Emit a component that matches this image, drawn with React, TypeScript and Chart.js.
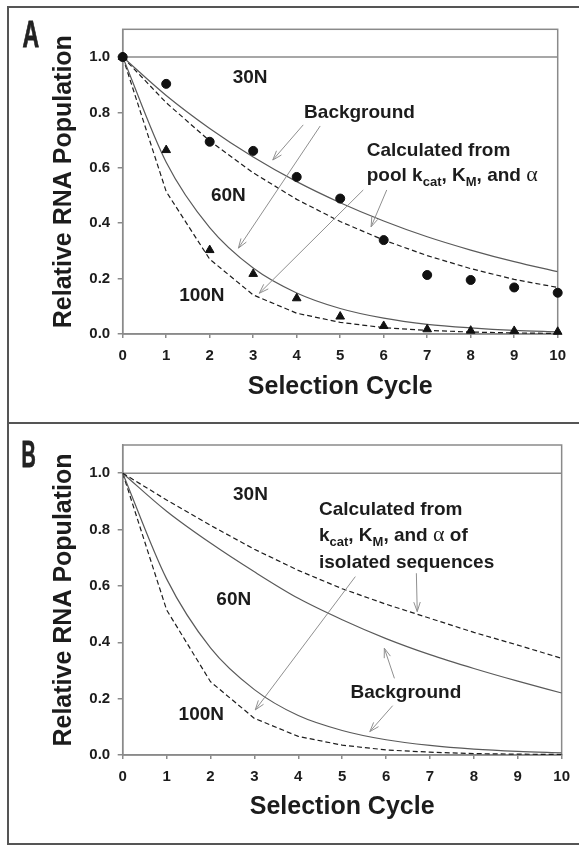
import React, { useEffect, useRef } from "react";
import { Chart, registerables } from "chart.js";

Chart.register(...registerables);

const SANS = '"Liberation Sans", Arial, Helvetica, sans-serif';
const SERIF = '"Liberation Serif", "Times New Roman", serif';

// ---------- data ----------
const cycles = [0, 1, 2, 3, 4, 5, 6, 7, 8, 9, 10];

// Panel A
const a30Observed = [1.0, 0.903, 0.694, 0.661, 0.567, 0.489, 0.339, 0.213, 0.195, 0.168, 0.149];
const a100Observed = [1.0, 0.664, 0.303, 0.217, 0.129, 0.063, 0.029, 0.017, 0.012, 0.011, 0.008];
const a30Background = [1.0, 0.861, 0.742, 0.639, 0.55, 0.474, 0.408, 0.351, 0.303, 0.261, 0.225];
const a30Calculated = [1.0, 0.835, 0.697, 0.582, 0.486, 0.406, 0.339, 0.283, 0.236, 0.197, 0.168];
const a100Background = [1.0, 0.62, 0.384, 0.238, 0.148, 0.092, 0.057, 0.035, 0.022, 0.013, 0.008];
const a100Calculated = [1.0, 0.514, 0.27, 0.141, 0.075, 0.042, 0.023, 0.013, 0.007, 0.004, 0.002];

// Panel B
const bUpperCalculated = [1.0, 0.905, 0.815, 0.73, 0.655, 0.59, 0.535, 0.485, 0.435, 0.39, 0.343];
const bUpperBackground = [1.0, 0.865, 0.752, 0.65, 0.556, 0.48, 0.413, 0.356, 0.307, 0.262, 0.22];
const bLowerBackground = [1.0, 0.625, 0.38, 0.232, 0.14, 0.087, 0.054, 0.034, 0.021, 0.013, 0.008];
const bLowerCalculated = [1.0, 0.515, 0.26, 0.13, 0.066, 0.035, 0.018, 0.01, 0.005, 0.003, 0.002];

const xTitle = "Selection Cycle";
const yTitle = "Relative RNA Population";

type Seg = { t: string; sub?: boolean; greek?: boolean };
type Note = { segs: Seg[]; x: number; y: number; align: "left" | "center" };
type Arrow = [number, number, number, number];

const aNotes: Note[] = [
  { segs: [{ t: "30N" }], x: 2.93, y: 0.929, align: "center" },
  { segs: [{ t: "60N" }], x: 2.43, y: 0.505, align: "center" },
  { segs: [{ t: "100N" }], x: 1.82, y: 0.144, align: "center" },
  { segs: [{ t: "Background" }], x: 4.17, y: 0.805, align: "left" },
  { segs: [{ t: "Calculated from" }], x: 5.61, y: 0.667, align: "left" },
  {
    segs: [
      { t: "pool k" }, { t: "cat", sub: true }, { t: ", K" }, { t: "M", sub: true },
      { t: ", and " }, { t: "α", greek: true },
    ],
    x: 5.61, y: 0.577, align: "left",
  },
];
const aArrows: Arrow[] = [
  [4.15, 0.755, 3.45, 0.628],
  [4.54, 0.751, 2.66, 0.31],
  [5.53, 0.52, 3.14, 0.147],
  [6.07, 0.52, 5.71, 0.387],
];

const bNotes: Note[] = [
  { segs: [{ t: "30N" }], x: 2.91, y: 0.929, align: "center" },
  { segs: [{ t: "60N" }], x: 2.53, y: 0.558, align: "center" },
  { segs: [{ t: "100N" }], x: 1.79, y: 0.148, align: "center" },
  { segs: [{ t: "Calculated from" }], x: 4.47, y: 0.875, align: "left" },
  {
    segs: [
      { t: "k" }, { t: "cat", sub: true }, { t: ", K" }, { t: "M", sub: true },
      { t: ", and " }, { t: "α", greek: true }, { t: " of" },
    ],
    x: 4.47, y: 0.785, align: "left",
  },
  { segs: [{ t: "isolated sequences" }], x: 4.47, y: 0.686, align: "left" },
  { segs: [{ t: "Background" }], x: 6.45, y: 0.225, align: "center" },
];
const bArrows: Arrow[] = [
  [6.69, 0.645, 6.71, 0.509],
  [5.3, 0.633, 3.02, 0.16],
  [6.19, 0.272, 5.96, 0.379],
  [6.15, 0.175, 5.63, 0.083],
];

// ---------- styles ----------
const TEXT = "#1c1c1c";
const AXIS = "#8a8a8a";
const SOLID = "#5a5a5a";
const DASH = "#1e1e1e";
const ARROW = "#8f8f8f";

const pairs = (ys: number[]) => cycles.map((c, i) => ({ x: c, y: ys[i] }));

function segFont(s: Seg) {
  if (s.greek) return `normal 22px ${SERIF}`;
  if (s.sub) return `bold 13px ${SANS}`;
  return `bold 19px ${SANS}`;
}

function drawNote(ctx: CanvasRenderingContext2D, n: Note, px: number, py: number) {
  const widths = n.segs.map((s) => {
    ctx.font = segFont(s);
    return ctx.measureText(s.t).width;
  });
  const total = widths.reduce((a, b) => a + b, 0);
  let cx = n.align === "center" ? px - total / 2 : px;
  const base = py + 6.8;
  ctx.textAlign = "left";
  ctx.textBaseline = "alphabetic";
  n.segs.forEach((s, i) => {
    ctx.font = segFont(s);
    ctx.fillText(s.t, cx, s.sub ? base + 5 : base);
    cx += widths[i];
  });
}

function drawArrow(ctx: CanvasRenderingContext2D, x0: number, y0: number, x1: number, y1: number) {
  const ang = Math.atan2(y1 - y0, x1 - x0);
  const L = 10;
  const a = 0.33;
  ctx.beginPath();
  ctx.moveTo(x0, y0);
  ctx.lineTo(x1, y1);
  ctx.moveTo(x1 - L * Math.cos(ang - a), y1 - L * Math.sin(ang - a));
  ctx.lineTo(x1, y1);
  ctx.lineTo(x1 - L * Math.cos(ang + a), y1 - L * Math.sin(ang + a));
  ctx.stroke();
}

type PanelCfg = {
  letter: string;
  letterX: number;
  letterY: number;
  letterScale: number;
  padTop: number;
  padRight: number;
  xHeight: number;
  yWidth: number;
  xTitlePad: number;
  yTitlePad: number;
  notes: Note[];
  arrows: Arrow[];
  datasets: any[];
};

function makeOverlay(cfg: PanelCfg) {
  return {
    id: "overlay" + cfg.letter,
    beforeDatasetsDraw(chart: any) {
      const { ctx, chartArea: ca, scales } = chart;
      const y = scales.y;
      ctx.save();
      ctx.strokeStyle = AXIS;
      ctx.lineWidth = 1.5;
      ctx.strokeRect(ca.left, ca.top, ca.right - ca.left, ca.bottom - ca.top);
      const y1 = y.getPixelForValue(1);
      ctx.beginPath();
      ctx.moveTo(ca.left, y1);
      ctx.lineTo(ca.right, y1);
      ctx.stroke();
      ctx.restore();
    },
    afterDatasetsDraw(chart: any) {
      const { ctx, scales } = chart;
      const x = scales.x;
      const y = scales.y;
      ctx.save();
      ctx.strokeStyle = ARROW;
      ctx.lineWidth = 1;
      cfg.arrows.forEach((a) => {
        drawArrow(
          ctx,
          x.getPixelForValue(a[0]),
          y.getPixelForValue(a[1]),
          x.getPixelForValue(a[2]),
          y.getPixelForValue(a[3])
        );
      });
      ctx.fillStyle = TEXT;
      cfg.notes.forEach((n) => drawNote(ctx, n, x.getPixelForValue(n.x), y.getPixelForValue(n.y)));
      // panel letter
      ctx.translate(cfg.letterX, cfg.letterY);
      ctx.scale(cfg.letterScale, 1);
      ctx.font = `bold 36px ${SANS}`;
      ctx.textAlign = "left";
      ctx.textBaseline = "alphabetic";
      ctx.fillStyle = "#222";
      ctx.lineWidth = 0.8;
      ctx.strokeStyle = "#222";
      ctx.fillText(cfg.letter, 0, 0);
      ctx.strokeText(cfg.letter, 0, 0);
      ctx.restore();
    },
  };
}

function buildChart(canvas: HTMLCanvasElement, cfg: PanelCfg) {
  const tickFont = { family: SANS, size: 15, weight: "bold" as const };
  const titleFont = { family: SANS, size: 25, weight: "bold" as const };
  return new Chart(canvas, {
    type: "line",
    data: { datasets: cfg.datasets },
    options: {
      animation: false,
      responsive: false,
      maintainAspectRatio: false,
      layout: { padding: { top: cfg.padTop, right: cfg.padRight, left: 0, bottom: 0 } },
      plugins: { legend: { display: false }, tooltip: { enabled: false }, title: { display: false } },
      scales: {
        x: {
          type: "linear",
          min: 0,
          max: 10,
          ticks: {
            stepSize: 1,
            font: tickFont,
            color: TEXT,
            padding: 9,
            maxRotation: 0,
            autoSkip: false,
            includeBounds: false,
          },
          grid: { drawOnChartArea: false, tickLength: 4, color: AXIS, tickColor: AXIS, lineWidth: 1.5 },
          border: { color: AXIS, width: 1.5 },
          title: {
            display: true,
            text: xTitle,
            font: titleFont,
            color: TEXT,
            padding: { top: 0, bottom: cfg.xTitlePad },
          },
          afterFit: (s: any) => {
            s.height = cfg.xHeight;
          },
        },
        y: {
          type: "linear",
          min: 0,
          max: 1.1,
          ticks: {
            stepSize: 0.2,
            includeBounds: false,
            font: tickFont,
            color: TEXT,
            padding: 7.5,
            callback: (v: any) => Number(v).toFixed(1),
          },
          grid: { drawOnChartArea: false, tickLength: 5, color: AXIS, tickColor: AXIS, lineWidth: 1.5 },
          border: { color: AXIS, width: 1.5 },
          title: {
            display: true,
            text: yTitle,
            font: titleFont,
            color: TEXT,
            padding: { top: cfg.yTitlePad, bottom: 0 },
          },
          afterFit: (s: any) => {
            s.width = cfg.yWidth;
          },
        },
      },
    },
    plugins: [makeOverlay(cfg)],
  });
}

const markerDs = (ys: number[], style: string, r: number) => ({
  data: pairs(ys),
  showLine: false,
  pointStyle: style,
  pointRadius: r,
  pointBackgroundColor: "#111",
  pointBorderColor: "#111",
  pointBorderWidth: 1,
  clip: false,
});
const solidDs = (ys: number[]) => ({
  data: pairs(ys),
  borderColor: SOLID,
  borderWidth: 1.2,
  pointRadius: 0,
  cubicInterpolationMode: "monotone",
  fill: false,
});
const dashDs = (ys: number[]) => ({
  data: pairs(ys),
  borderColor: DASH,
  borderWidth: 1.2,
  borderDash: [5, 3],
  pointRadius: 0,
  tension: 0,
  fill: false,
});

const panelA: PanelCfg = {
  letter: "A",
  letterX: 22.5,
  letterY: 46.7,
  letterScale: 0.64,
  padTop: 29.3,
  padRight: 21.3,
  xHeight: 89,
  yWidth: 122.7,
  xTitlePad: 21.3,
  yTitlePad: 49,
  notes: aNotes,
  arrows: aArrows,
  datasets: [
    markerDs(a30Observed, "circle", 4.5),
    markerDs(a100Observed, "triangle", 5),
    solidDs(a30Background),
    dashDs(a30Calculated),
    solidDs(a100Background),
    dashDs(a100Calculated),
  ],
};

const panelB: PanelCfg = {
  letter: "B",
  letterX: 21.5,
  letterY: 43.7,
  letterScale: 0.55,
  padTop: 22,
  padRight: 13.3,
  xHeight: 91,
  yWidth: 122.7,
  xTitlePad: 23.5,
  yTitlePad: 49,
  notes: bNotes,
  arrows: bArrows,
  datasets: [
    dashDs(bUpperCalculated),
    solidDs(bUpperBackground),
    solidDs(bLowerBackground),
    dashDs(bLowerCalculated),
  ],
};

function PanelCanvas({ cfg, top }: { cfg: PanelCfg; top: number }) {
  const ref = useRef<HTMLCanvasElement | null>(null);
  useEffect(() => {
    if (!ref.current) return;
    const chart = buildChart(ref.current, cfg);
    return () => chart.destroy();
  }, [cfg]);
  return (
    <canvas
      ref={ref}
      width={579}
      height={423}
      style={{ position: "absolute", left: 0, top, width: 579, height: 423, display: "block" }}
    />
  );
}

export default function App() {
  return (
    <div
      style={{
        position: "fixed",
        left: 0,
        top: 0,
        width: 579,
        height: 846,
        overflow: "hidden",
        background: "#fff",
      }}
    >
      <div
        style={{
          position: "absolute",
          left: 7,
          top: 6,
          width: 700,
          height: 418,
          border: "2px solid #555",
          boxSizing: "border-box",
        }}
      />
      <div
        style={{
          position: "absolute",
          left: 7,
          top: 422,
          width: 700,
          height: 423,
          border: "2px solid #555",
          boxSizing: "border-box",
        }}
      />
      <PanelCanvas cfg={panelA} top={0} />
      <PanelCanvas cfg={panelB} top={423} />
    </div>
  );
}
